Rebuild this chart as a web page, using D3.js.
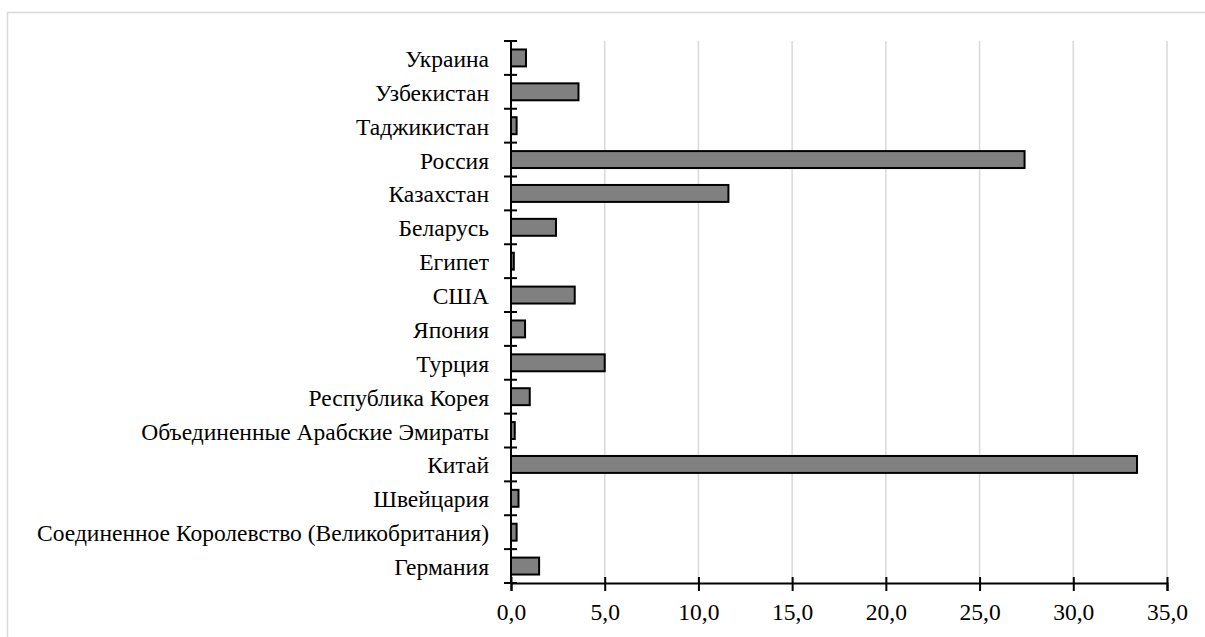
<!DOCTYPE html>
<meta charset="utf-8">
<style>
body { margin: 0; background: #fff; }
</style>
<svg width="1205" height="637"></svg>
<script src="https://d3js.org/d3.v7.min.js"></script>
<script>

// categories from top to bottom, values in %
var countries = ["Украина", "Узбекистан", "Таджикистан", "Россия", "Казахстан", "Беларусь",
  "Египет", "США", "Япония", "Турция", "Республика Корея", "Объединенные Арабские Эмираты",
  "Китай", "Швейцария", "Соединенное Королевство (Великобритания)", "Германия"];
var shares = [0.8, 3.6, 0.3, 27.4, 11.6, 2.4, 0.15, 3.4, 0.75, 5.0, 1.0, 0.2, 33.4, 0.4, 0.3, 1.5];
var xTicks = [0, 5, 10, 15, 20, 25, 30, 35];

var svg = d3.select("svg"),
    margin = {top: 41, right: 38, bottom: 54, left: 511},
    width = svg.attr("width") - margin.left - margin.right,
    height = svg.attr("height") - margin.top - margin.bottom;

// outer frame (partly cut off at right / bottom)
svg.append("rect")
    .attr("x", 7.5).attr("y", 12.5)
    .attr("width", 1220).attr("height", 660)
    .attr("fill", "none")
    .attr("stroke", "#d9d9d9")
    .attr("stroke-width", 1.5);

var g = svg.append("g")
    .attr("transform", "translate(" + margin.left + "," + margin.top + ")");

var x = d3.scaleLinear().domain([0, 35]).range([0, width]);
var y = d3.scaleBand().domain(countries).range([0, height]).paddingInner(0.5).paddingOuter(0.25);

// gridlines
g.append("g").selectAll("line")
    .data(xTicks.slice(1))
  .enter().append("line")
    .attr("x1", function(d) { return x(d); })
    .attr("x2", function(d) { return x(d); })
    .attr("y1", 0)
    .attr("y2", height)
    .attr("stroke", "#d9d9d9")
    .attr("stroke-width", 1.5);

// bars
g.append("g").selectAll("rect")
    .data(countries)
  .enter().append("rect")
    .attr("x", x(0))
    .attr("y", function(d) { return y(d); })
    .attr("width", function(d, i) { return x(shares[i]) - x(0); })
    .attr("height", y.bandwidth())
    .attr("fill", "#808080")
    .attr("stroke", "#000")
    .attr("stroke-width", 2);

// x axis
var xAxis = d3.axisBottom(x)
    .tickValues(xTicks)
    .tickFormat(function(d) { return d3.format(".1f")(d).replace(".", ","); })
    .tickSizeOuter(0)
    .tickSize(8)
    .tickPadding(12);

var gx = g.append("g")
    .attr("transform", "translate(0," + height + ")")
    .call(xAxis);
gx.select(".domain").attr("stroke", "#000").attr("stroke-width", 2);
gx.selectAll(".tick line").attr("y1", -6).attr("stroke", "#000").attr("stroke-width", 2);
gx.selectAll(".tick text")
    .attr("font-family", "Liberation Serif")
    .attr("font-size", 23.5)
    .attr("fill", "#000");

// y axis: labels only, ticks at band boundaries
var yAxis = d3.axisLeft(y).tickSize(0).tickPadding(22);
var gy = g.append("g")
    .call(yAxis);
gy.select(".domain").remove();
gy.selectAll(".tick text")
    .attr("dy", "0.38em")
    .attr("font-family", "Liberation Serif")
    .attr("font-size", 23.5)
    .attr("fill", "#000");

g.append("g").selectAll("line")
    .data(d3.range(countries.length + 1))
  .enter().append("line")
    .attr("x1", -7).attr("x2", 6)
    .attr("y1", function(i) { return i * y.step(); })
    .attr("y2", function(i) { return i * y.step(); })
    .attr("stroke", "#000")
    .attr("stroke-width", 2);

g.append("line")
    .attr("x1", 0).attr("x2", 0)
    .attr("y1", 0).attr("y2", height)
    .attr("stroke", "#000")
    .attr("stroke-width", 2);

</script>
